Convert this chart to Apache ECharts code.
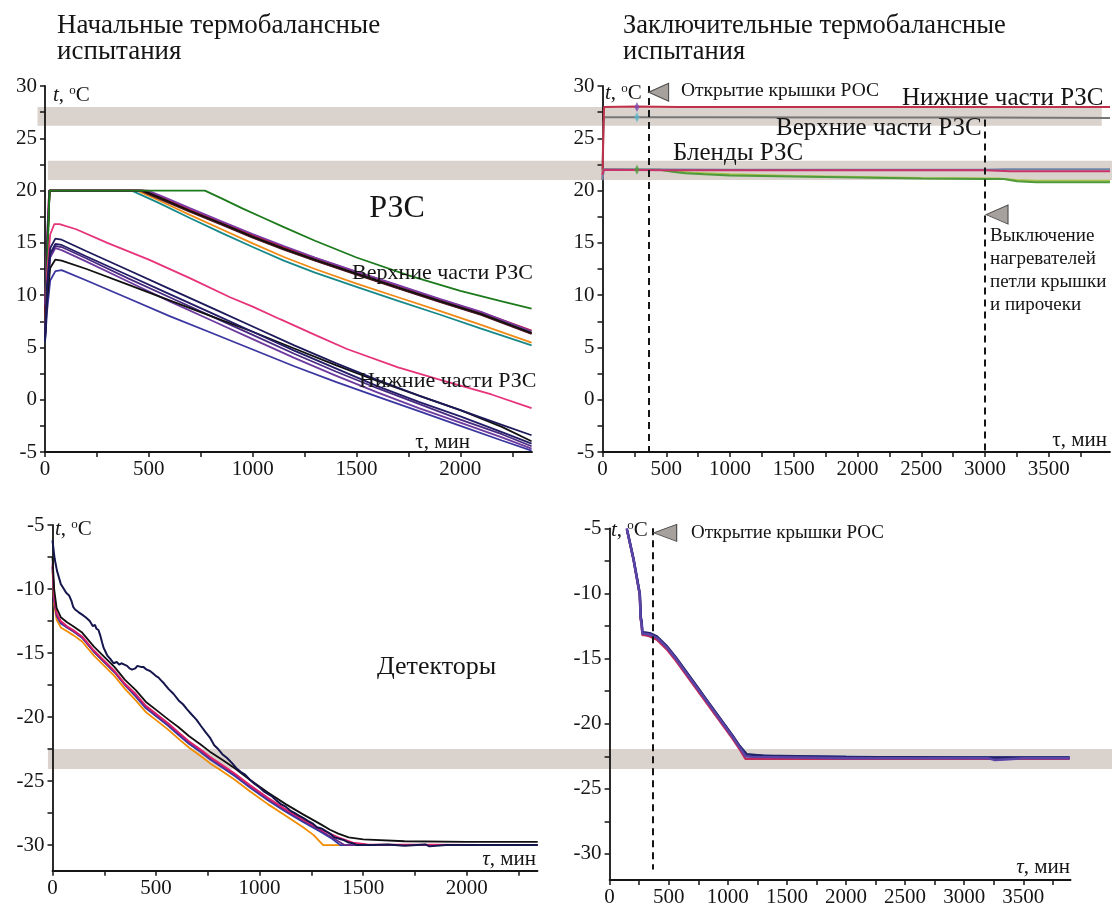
<!DOCTYPE html>
<html><head><meta charset="utf-8">
<script src="https://cdn.jsdelivr.net/npm/echarts/dist/echarts.min.js"></script>
<style>html,body{margin:0;padding:0;background:#fff}#c{width:1115px;height:911px}</style>
</head><body><div id="c"></div>
<script>
const FONT = '"Liberation Serif","Times New Roman",serif';
const INK = '#151515';

// ---------- tick / label values ----------
const X_TICKS_L = [0,250,500,750,1000,1250,1500,1750,2000,2250];
const X_LABELS_L = [0,500,1000,1500,2000];
const X_TICKS_R = [0,250,500,750,1000,1250,1500,1750,2000,2250,2500,2750,3000,3250,3500,3750];
const X_LABELS_R = [0,500,1000,1500,2000,2500,3000,3500];
const Y_TICKS_TOP = [-5,-2.5,0,2.5,5,7.5,10,12.5,15,17.5,20,22.5,25,27.5,30];
const Y_LABELS_TOP = [-5,0,5,10,15,20,25,30];
const Y_TICKS_BOT = [-30,-27.5,-25,-22.5,-20,-17.5,-15,-12.5,-10,-7.5,-5];
const Y_LABELS_BOT = [-30,-25,-20,-15,-10,-5];

// ---------- highlighted temperature bands ----------
const BAND_HI = [26.2, 28.0];     // top panels (°C)
const BAND_MID = [21.0, 22.85];   // top panels (°C)
const BAND_DET = [-24.05, -22.5]; // bottom-left (°C)

// ---------- events ----------
const EV_OPEN_TR = 362, EV_OFF_TR = 3000, EV_OPEN_BR = 365;
const TR_GLITCH_T = 270;
const TR_GLITCH_V = [28.0, 27.0, 22.0];

// ---------- top-left: initial tests, RZS ----------
const TL_GREEN  = [[0,5.8],[10,13],[22,20],[770,20],[850,19.25],[950,18.3],[1050,17.4],[1150,16.5],[1300,15.2],[1500,13.6],[1750,11.9],[2000,10.4],[2200,9.4],[2343,8.7]];
const TL_BLACK_U= [[0,6.5],[10,14],[22,20],[472,20],[550,19.35],[700,18.05],[850,16.85],[1000,15.6],[1150,14.45],[1300,13.4],[1500,12.05],[1700,10.75],[1900,9.45],[2100,8.2],[2343,6.4]];
const TL_BROWN  = [[0,7],[10,14.5],[22,20],[468,20],[550,19.3],[700,18.0],[850,16.8],[1000,15.55],[1150,14.4],[1300,13.35],[1500,12.0],[1700,10.7],[1900,9.4],[2100,8.15],[2343,6.35]];
const TL_RED    = [[0,8],[10,15],[20,20],[480,20],[560,19.35],[700,18.15],[850,16.95],[1000,15.75],[1150,14.6],[1300,13.55],[1500,12.2],[1700,10.9],[1900,9.6],[2100,8.35],[2343,6.6]];
const TL_PURPLE = [[0,9],[10,15.5],[20,20],[495,20],[570,19.4],[700,18.3],[850,17.05],[1000,15.85],[1150,14.7],[1300,13.6],[1500,12.25],[1700,10.95],[1900,9.65],[2100,8.4],[2343,6.55]];
const TL_MAROON = [[0,7.5],[10,14],[22,20],[460,20],[540,19.3],[700,17.95],[850,16.75],[1000,15.5],[1150,14.35],[1300,13.3],[1500,11.95],[1700,10.65],[1900,9.35],[2100,8.1],[2343,6.3]];
const TL_ORANGE = [[0,6],[10,13],[22,20],[445,20],[550,19.05],[700,17.65],[850,16.3],[1000,14.95],[1150,13.65],[1300,12.5],[1500,11.1],[1700,9.8],[1900,8.5],[2100,7.15],[2343,5.45]];
const TL_TEAL   = [[0,5.5],[10,12.5],[22,20],[418,20],[550,18.8],[700,17.35],[850,15.95],[1000,14.6],[1150,13.3],[1300,12.15],[1500,10.8],[1700,9.45],[1900,8.15],[2100,6.8],[2343,5.2]];
const TL_PINK   = [[0,6],[10,12],[25,15.8],[45,16.8],[70,16.8],[150,16.3],[300,15.0],[500,13.4],[700,11.6],[891,9.8],[1000,8.9],[1132,7.7],[1300,6.2],[1454,4.85],[1700,3.1],[1920,1.8],[2150,0.5],[2343,-0.8]];
const TL_LOW_T  = [0,10,25,50,80,200,400,600,800,1000,1200,1400,1600,1800,2000,2200,2343];
const TL_NAVY1  = [5.5,11.0,14.5,15.4,15.3,14.2,12.4,10.6,8.8,7.0,5.2,3.5,1.9,0.4,-1.0,-2.4,-3.4];
const TL_NAVY2  = [5.8,10.5,14.0,14.9,14.8,13.7,11.9,10.1,8.3,6.5,4.7,3.0,1.3,-0.2,-1.6,-3.1,-4.2];
const TL_VIOL1  = [6.0,10.2,13.8,14.7,14.6,13.5,11.6,9.8,8.0,6.2,4.4,2.7,1.1,-0.4,-1.9,-3.3,-4.45];
const TL_VIOL2  = [6.2,10.0,13.6,14.5,14.3,13.2,11.3,9.4,7.6,5.8,4.0,2.3,0.7,-0.8,-2.2,-3.6,-4.67];
const TL_BLACK_L= [5.6,9.5,12.6,13.4,13.3,12.5,11.0,9.5,8.0,6.5,4.9,3.3,1.8,0.4,-1.0,-2.6,-3.97];
const TL_BLUE   = [5.5,8.5,11.4,12.3,12.4,11.4,9.7,8.0,6.4,4.8,3.2,1.7,0.3,-1.1,-2.5,-3.9,-4.86];

// ---------- top-right: final tests, RZS ----------
const TR_RED    = [[0,21.0],[6,25],[12,28.0],[260,28.05],[600,28.0],[1500,28.0],[2500,28.0],[3500,27.98],[3980,27.98]];
const TR_GRAY   = [[0,22.0],[8,26.5],[14,27.0],[800,27.0],[2000,26.98],[3000,26.98],[3980,26.95]];
const TR_BLUE   = [[0,21.0],[10,22.05],[1000,22.0],[2000,22.0],[3000,22.0],[3150,22.05],[3980,22.05]];
const TR_PINK   = [[0,21.5],[10,22.0],[500,21.95],[1500,21.95],[2500,21.95],[3000,21.95],[3200,21.85],[3980,21.85]];
const TR_YGREEN = [[0,21.8],[10,22.0],[450,22.0],[550,21.85],[700,21.7],[1000,21.55],[1500,21.4],[2000,21.3],[2500,21.2],[3100,21.15],[3250,21.0],[3400,20.95],[3980,20.95]];
const TR_GREEN  = [[0,22.0],[450,22.0],[550,21.8],[650,21.65],[800,21.55],[1000,21.45],[1500,21.35],[2000,21.25],[2500,21.15],[3000,21.1],[3150,21.1],[3250,20.9],[3400,20.8],[3980,20.8]];

// ---------- bottom-left: initial tests, detectors ----------
const BL_NAVY = [[0,-6.2],[10,-7.6],[22,-8.6],[40,-9.6],[55,-10.0],[66,-10.3],[80,-10.5],[91,-10.9],[100,-11.4],[109,-11.6],[125,-11.8],[143,-12.0],[160,-12.2],[180,-12.5],[188,-12.4],[195,-12.9],[205,-12.8],[212,-13.1],[222,-13.2],[230,-13.6],[240,-14.2],[247,-14.6],[256,-14.9],[265,-15.2],[273,-15.3],[281,-15.5],[295,-15.8],[310,-15.7],[322,-15.9],[333,-15.8],[347,-15.9],[360,-16.0],[372,-16.2],[384,-16.3],[393,-16.4],[400,-16.2],[410,-16.0],[419,-15.9],[430,-16.1],[440,-16.1],[455,-16.3],[471,-16.4],[486,-16.6],[500,-16.8],[511,-16.9],[522,-17.1],[540,-17.4],[560,-17.8],[585,-18.2],[609,-18.7],[630,-19.0],[650,-19.4],[672,-19.8],[695,-20.2],[717,-20.7],[740,-21.2],[760,-21.6],[781,-22.2],[800,-22.5],[820,-22.9],[843,-23.2],[867,-23.6],[888,-24.0],[910,-24.3],[930,-24.5],[953,-24.9],[975,-25.2],[1000,-25.5],[1020,-25.8],[1040,-26.0],[1060,-26.2],[1080,-26.5],[1103,-26.8],[1126,-27.0],[1148,-27.3],[1170,-27.5],[1190,-27.7],[1212,-27.9],[1233,-28.1],[1255,-28.3],[1277,-28.6],[1298,-28.7],[1320,-28.9],[1340,-29.1],[1362,-29.4],[1384,-29.5],[1405,-29.6],[1430,-29.8],[1450,-29.85],[1471,-30.0],[1550,-30.0],[1620,-29.95],[1700,-30.05],[1800,-29.95],[1820,-30.1],[1900,-30.0],[2100,-30.0],[2343,-30.0]];
const BL_BLACK = [[0,-7.5],[8,-10.0],[20,-11.5],[40,-12.2],[70,-12.6],[100,-12.9],[143,-13.4],[200,-14.5],[250,-15.3],[300,-16.1],[350,-17.1],[402,-17.9],[450,-18.8],[505,-19.5],[560,-20.2],[609,-20.8],[660,-21.5],[712,-22.1],[760,-22.7],[816,-23.3],[880,-24.0],[953,-24.9],[1040,-25.9],[1126,-26.8],[1210,-27.6],[1298,-28.4],[1340,-28.8],[1380,-29.1],[1430,-29.4],[1500,-29.55],[1700,-29.7],[2000,-29.75],[2343,-29.75]];
const BL_PINK = [[0,-8],[8,-10.6],[20,-11.9],[40,-12.5],[70,-12.9],[100,-13.2],[143,-13.7],[200,-14.8],[250,-15.6],[300,-16.4],[350,-17.4],[402,-18.2],[450,-19.1],[505,-19.8],[560,-20.5],[609,-21.2],[660,-21.9],[712,-22.5],[760,-23.1],[816,-23.7],[880,-24.4],[953,-25.3],[1040,-26.3],[1126,-27.2],[1210,-28.0],[1298,-28.8],[1380,-29.4],[1450,-29.8],[1520,-29.95],[2343,-30.0]];
const BL_GREEN = [[0,-8.2],[8,-10.8],[20,-12.0],[40,-12.6],[70,-13.0],[100,-13.3],[143,-13.8],[200,-14.9],[250,-15.7],[300,-16.5],[350,-17.5],[402,-18.3],[450,-19.2],[505,-19.9],[560,-20.6],[609,-21.3],[660,-22.0],[712,-22.6],[760,-23.2],[816,-23.8],[880,-24.5],[953,-25.4],[1040,-26.4],[1126,-27.3],[1210,-28.1],[1298,-28.9],[1360,-29.5],[1410,-30.0],[2343,-30.0]];
const BL_BLUE = [[0,-8.3],[8,-10.9],[20,-12.1],[40,-12.7],[70,-13.0],[100,-13.3],[143,-13.8],[200,-14.9],[250,-15.7],[300,-16.5],[350,-17.5],[402,-18.4],[450,-19.3],[505,-20.0],[560,-20.7],[609,-21.4],[660,-22.1],[712,-22.7],[760,-23.3],[816,-23.9],[880,-24.6],[953,-25.5],[1040,-26.5],[1126,-27.4],[1210,-28.2],[1298,-29.0],[1350,-29.5],[1390,-30.0],[2343,-30.0]];
const BL_ORANGE = [[0,-8.6],[8,-11.2],[20,-12.4],[40,-13.0],[70,-13.3],[100,-13.6],[143,-14.1],[200,-15.2],[250,-16.0],[300,-16.8],[350,-17.8],[402,-18.7],[450,-19.6],[505,-20.3],[560,-21.0],[609,-21.7],[660,-22.4],[712,-23.0],[760,-23.6],[816,-24.2],[880,-24.9],[953,-25.8],[1040,-26.8],[1126,-27.7],[1210,-28.6],[1260,-29.2],[1307,-30.0],[1500,-30.0]];

// ---------- bottom-right: final tests, detectors ----------
const BR_PURPLE = [[144,-5.0],[200,-7.3],[254,-10.0],[262,-11.9],[268,-12.0],[272,-12.4],[278,-13.1],[300,-13.1],[340,-13.15],[400,-13.4],[480,-14.1],[560,-15.0],[640,-16.0],[720,-17.0],[800,-18.0],[880,-19.0],[960,-20.0],[1040,-21.0],[1100,-21.8],[1150,-22.5],[1200,-22.55],[1600,-22.6],[2000,-22.65],[2600,-22.65],[3200,-22.65],[3260,-22.8],[3340,-22.75],[3500,-22.65],[3892,-22.65]];
const BR_NAVY   = [[150,-5.2],[205,-7.5],[256,-10.1],[264,-11.9],[270,-12.1],[276,-13.0],[300,-13.0],[340,-13.05],[400,-13.3],[480,-14.0],[560,-14.9],[640,-15.9],[720,-16.9],[800,-17.9],[880,-18.9],[960,-19.9],[1040,-20.9],[1100,-21.7],[1160,-22.35],[1300,-22.45],[2000,-22.55],[3000,-22.6],[3892,-22.6]];
const BR_PINK   = [[146,-5.1],[202,-7.4],[255,-10.1],[263,-12.0],[270,-12.3],[278,-13.2],[300,-13.2],[340,-13.3],[400,-13.55],[480,-14.25],[560,-15.15],[640,-16.15],[720,-17.15],[800,-18.15],[880,-19.15],[960,-20.15],[1040,-21.15],[1100,-21.95],[1150,-22.7],[1300,-22.7],[2000,-22.7],[3000,-22.7],[3892,-22.7]];
const BR_BLUE   = [[148,-5.1],[204,-7.4],[256,-10.0],[264,-11.8],[272,-12.2],[278,-13.0],[320,-13.1],[400,-13.35],[480,-14.05],[560,-14.95],[640,-15.95],[720,-16.95],[800,-17.95],[880,-18.95],[960,-19.95],[1040,-20.95],[1100,-21.75],[1155,-22.4],[1400,-22.5],[2500,-22.6],[3892,-22.6]];

// ---------- build ----------
const chart = echarts.init(document.getElementById('c'));
const grids = [
  {left:45, top:86, width:487, height:366},
  {left:602.5, top:86, width:507.5, height:366},
  {left:52.5, top:525, width:485, height:345.7},
  {left:609.6, top:528.3, width:461, height:351.7}
];
const fmt = v => String(v);
function xAx(gi, max, ticks, labels){
  return {type:'value', gridIndex:gi, min:0, max:max,
    axisLine:{show:true, onZero:false, lineStyle:{color:INK, width:1.8}},
    axisTick:{show:true, inside:false, length:5, lineStyle:{color:INK, width:1.5}, customValues:ticks},
    axisLabel:{show:true, customValues:labels, formatter:fmt, fontFamily:FONT, fontSize:21, color:INK, margin:7},
    splitLine:{show:false}};
}
function yAx(gi, min, max, ticks, labels){
  return {type:'value', gridIndex:gi, min:min, max:max,
    axisLine:{show:true, onZero:false, lineStyle:{color:INK, width:1.8}},
    axisTick:{show:true, inside:false, length:5, lineStyle:{color:INK, width:1.5}, customValues:ticks},
    axisLabel:{show:true, customValues:labels, formatter:fmt, fontFamily:FONT, fontSize:21, color:INK, margin:8},
    splitLine:{show:false}};
}
const pairs = (ts, vs) => ts.map((t,i)=>[t, vs[i]]);
function ln(g, data, color, w, z){
  return {type:'line', xAxisIndex:g, yAxisIndex:g, data:data, showSymbol:false, symbol:'none',
    lineStyle:{color:color, width:w||1.8}, silent:true, z:z||2, animation:false};
}
const TRI = 'path://M0,10 L20,0 L20,20 Z';
const triStyle = {color:'#a7a19d', borderColor:'#4a4a4a', borderWidth:1};
const GLITCH_COLORS = ['#7a4ab0', '#5ab4c8', '#4e9a3c'];

const series = [
  // top-left
  ln(0, TL_TEAL, '#17898a'), ln(0, TL_ORANGE, '#f08a14'),
  ln(0, TL_MAROON, '#4a1238'), ln(0, TL_BROWN, '#5a1e0e'), ln(0, TL_RED, '#c8102e'),
  ln(0, TL_PURPLE, '#7b3aa5'), ln(0, TL_BLACK_U, '#111111'), ln(0, TL_GREEN, '#1c7a1c'),
  ln(0, TL_PINK, '#e6337a'),
  ln(0, pairs(TL_LOW_T, TL_BLUE), '#3b36a0'), ln(0, pairs(TL_LOW_T, TL_VIOL2), '#6d3a9e'),
  ln(0, pairs(TL_LOW_T, TL_VIOL1), '#4a2a80'), ln(0, pairs(TL_LOW_T, TL_BLACK_L), '#111111'),
  ln(0, pairs(TL_LOW_T, TL_NAVY2), '#231c66'), ln(0, pairs(TL_LOW_T, TL_NAVY1), '#1c1a5a'),
  // top-right
  ln(1, TR_GRAY, '#777777', 2), ln(1, TR_RED, '#c0304a', 2),
  ln(1, TR_YGREEN, '#a9c24a', 2), ln(1, TR_GREEN, '#4e9a3c', 2),
  ln(1, TR_BLUE, '#6f86a8', 2), ln(1, TR_PINK, '#c8336a', 2),
  {type:'scatter', xAxisIndex:1, yAxisIndex:1, silent:true, animation:false, z:4,
    symbol:'diamond', symbolSize:[5,10],
    data:TR_GLITCH_V.map((v,i)=>({value:[TR_GLITCH_T, v], itemStyle:{color:GLITCH_COLORS[i]}}))},
  {type:'line', xAxisIndex:1, yAxisIndex:1, data:[], silent:true, animation:false,
    markLine:{silent:true, symbol:['none','none'], label:{show:false},
      lineStyle:{type:[7,5], color:INK, width:2},
      data:[[{coord:[EV_OPEN_TR,30]},{coord:[EV_OPEN_TR,-5]}],[{coord:[EV_OFF_TR,26.8]},{coord:[EV_OFF_TR,-5]}]]},
    markPoint:{silent:true, symbol:TRI, label:{show:false}, itemStyle:triStyle,
      data:[{coord:[EV_OPEN_TR+78,29.4], symbolSize:[20,18]},{coord:[EV_OFF_TR+94,17.7], symbolSize:[22,19]}]}},
  // bottom-left
  ln(2, BL_ORANGE, '#f28c00'), ln(2, BL_BLUE, '#2c3aa8'), ln(2, BL_GREEN, '#6a2a8a'),
  ln(2, BL_PINK, '#e0206a'), ln(2, BL_BLACK, '#111111'), ln(2, BL_NAVY, '#16164e', 2),
  // bottom-right
  ln(3, BR_PINK, '#c02a5a', 2.4), ln(3, BR_BLUE, '#3f55b0', 2.4), ln(3, BR_NAVY, '#23246a', 2.4), ln(3, BR_PURPLE, '#5a44a6', 2.4),
  {type:'line', xAxisIndex:3, yAxisIndex:3, data:[], silent:true, animation:false,
    markLine:{silent:true, symbol:['none','none'], label:{show:false},
      lineStyle:{type:[7,5], color:INK, width:2},
      data:[[{coord:[EV_OPEN_BR,-5]},{coord:[EV_OPEN_BR,-31.2]}]]},
    markPoint:{silent:true, symbol:TRI, label:{show:false}, itemStyle:triStyle,
      data:[{coord:[EV_OPEN_BR+105,-5.35], symbolSize:[23,17]}]}}
];

chart.setOption({
  animation:false,
  backgroundColor:'#ffffff',
  grid:grids,
  xAxis:[xAx(0,2345,X_TICKS_L,X_LABELS_L), xAx(1,3980,X_TICKS_R,X_LABELS_R), xAx(2,2342,X_TICKS_L,X_LABELS_L), xAx(3,3900,X_TICKS_R,X_LABELS_R)],
  yAxis:[yAx(0,-5,30,Y_TICKS_TOP,Y_LABELS_TOP), yAx(1,-5,30,Y_TICKS_TOP,Y_LABELS_TOP), yAx(2,-32,-5,Y_TICKS_BOT,Y_LABELS_BOT), yAx(3,-32,-5,Y_TICKS_BOT,Y_LABELS_BOT)],
  series:series
});

// ---------- bands + texts ----------
const px = (g, pt) => chart.convertToPixel({gridIndex:g}, pt);
function band(yv, gY, xFrom, gFrom, xTo, gTo){
  const ya = px(gY,[0,yv[1]])[1], yb = px(gY,[0,yv[0]])[1];
  const xa = px(gFrom,[xFrom,yv[0]])[0], xb = px(gTo,[xTo,yv[0]])[0];
  return {type:'rect', z:-10, silent:true, shape:{x:xa, y:ya, width:xb-xa, height:yb-ya}, style:{fill:'#d9d2cd'}};
}
function txt(x, y, s, size, opt){
  opt = opt || {};
  return {type:'text', x:x, y:y, z:50, silent:true,
    style:Object.assign({text:s, font:(opt.italic?'italic ':'')+size+'px '+FONT, fill:INK,
      align:opt.align||'left', verticalAlign:'middle', textAlign:opt.align||'left', textVerticalAlign:'middle'}, opt.rich?{rich:opt.rich}:{})};
}
const tRich = {i:{fontStyle:'italic', fontFamily:FONT, fontSize:21, fill:INK, color:INK},
  n:{fontFamily:FONT, fontSize:21, fill:INK, color:INK},
  s:{fontFamily:FONT, fontSize:13, fill:INK, color:INK, verticalAlign:'top', padding:[0,0,9,0]}};
const tUnit = (x,y) => txt(x, y, '{i|t}{n|, }{s|o}{n|C}', 21, {rich:tRich});
const tau = (x,y,it) => txt(x, y, '{'+(it?'i':'n')+'|τ}{n|, мин}', 21, {align:'right', rich:{
  i:{fontStyle:'italic', fontFamily:FONT, fontSize:21, fill:INK, color:INK}, n:{fontFamily:FONT, fontSize:21, fill:INK, color:INK}}});

const g = [
  band(BAND_HI, 0, -36, 0, 3915, 1),
  band(BAND_MID, 0, 14, 0, 3995, 1),
  band(BAND_DET, 2, -22, 2, 4250, 3),
  txt(57, 26, 'Начальные термобалансные', 27), txt(57, 52, 'испытания', 27),
  txt(623, 26, 'Заключительные термобалансные', 26.5), txt(623, 52, 'испытания', 26.5),
  tUnit(53, 95), tUnit(605, 93), tUnit(55, 529), tUnit(611, 530),
  txt(397, 209, 'РЗС', 32, {align:'center'}),
  txt(352, 273, 'Верхние части РЗС', 22), txt(359, 381, 'Нижние части РЗС', 22),
  tau(470, 442, false), tau(1107, 440, false), tau(536, 859, true), tau(1070, 867, true),
  txt(681, 91, 'Открытие крышки РОС', 19.5),
  txt(902, 98, 'Нижние части РЗС', 25), txt(776, 128, 'Верхние части РЗС', 25), txt(673, 153, 'Бленды РЗС', 25),
  txt(990, 236, 'Выключение', 19), txt(990, 259, 'нагревателей', 19), txt(990, 282, 'петли крышки', 19), txt(990, 305, 'и пирочеки', 19),
  txt(377, 667, 'Детекторы', 26),
  txt(691, 533, 'Открытие крышки РОС', 19)
];
chart.setOption({graphic:{elements:g}});
</script></body></html>
